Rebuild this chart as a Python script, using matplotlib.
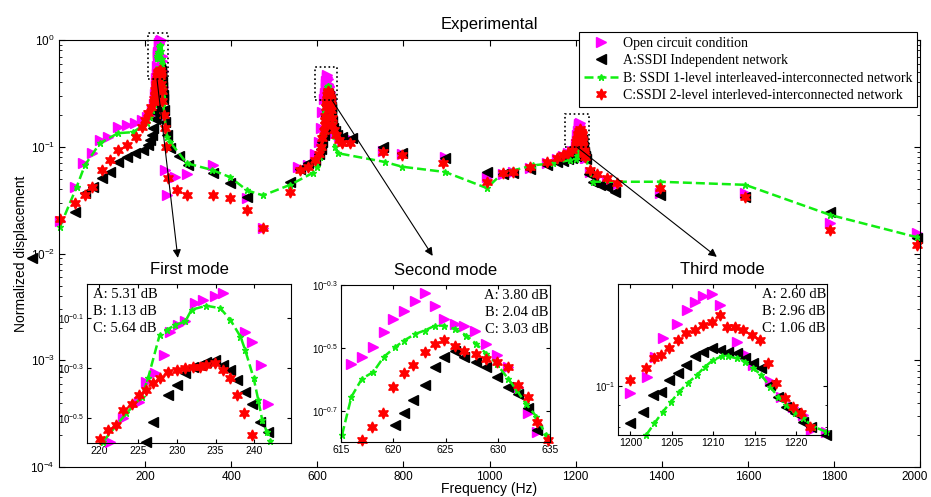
import numpy as np
import matplotlib
matplotlib.use("Agg")
import matplotlib.pyplot as plt
import matplotlib.transforms as mtransforms
from matplotlib.patches import Rectangle
from matplotlib.ticker import FixedLocator, FixedFormatter, NullLocator, NullFormatter

plt.rcParams['font.family'] = ['Liberation Sans', 'DejaVu Sans']
plt.rcParams['mathtext.fontset'] = 'custom'
plt.rcParams['mathtext.rm'] = 'Liberation Sans'
plt.rcParams['mathtext.it'] = 'Liberation Sans:italic'

# ===== DATA =====
# broadband sweep, frequency (Hz) / normalized displacement
open_f = [2, 37, 56, 77, 95, 114, 137, 158, 177, 193, 204, 211, 216, 244, 247, 251, 270, 297, 358, 437,
          474, 555, 579, 595, 603, 608, 612, 637, 642, 650, 657, 680, 753, 797, 897, 994, 1031, 1055, 1094, 1133,
          1157, 1170, 1182, 1192, 1233, 1250, 1273, 1292, 1396, 1594, 1791, 1993]
open_v = [0.020, 0.042, 0.070, 0.087, 0.116, 0.123, 0.153, 0.160, 0.167, 0.178, 0.19, 0.20, 0.22, 0.20, 0.060, 0.035, 0.052, 0.056, 0.068, 0.033,
          0.0173, 0.065, 0.068, 0.085, 0.11, 0.15, 0.21, 0.15, 0.135, 0.125, 0.118, 0.115, 0.092, 0.085, 0.080, 0.052, 0.056, 0.058, 0.063, 0.070,
          0.076, 0.082, 0.088, 0.092, 0.058, 0.053, 0.048, 0.044, 0.037, 0.037, 0.0194, 0.0156]

a_f = [-63, 37, 60, 79, 100, 118, 137, 158, 177, 195, 207, 212, 216, 219, 222, 224, 243.5, 246, 250, 258,
       279, 300, 358, 397, 437, 537, 560, 579, 595, 603, 608, 612, 616, 618, 636, 640, 645, 657, 680, 753,
       797, 897, 994, 1031, 1055, 1094, 1133, 1157, 1170, 1182, 1192, 1230, 1240, 1257, 1273, 1292, 1396, 1594, 1791, 1993]
a_v = [0.0091, 0.0245, 0.037, 0.042, 0.051, 0.058, 0.072, 0.080, 0.087, 0.093, 0.104, 0.115, 0.13, 0.15, 0.18, 0.21, 0.22, 0.17, 0.13, 0.097,
       0.082, 0.067, 0.057, 0.046, 0.034, 0.047, 0.062, 0.070, 0.075, 0.085, 0.095, 0.11, 0.13, 0.15, 0.15, 0.14, 0.13, 0.123, 0.12, 0.10,
       0.087, 0.078, 0.058, 0.055, 0.057, 0.062, 0.068, 0.072, 0.074, 0.076, 0.078, 0.055, 0.047, 0.044, 0.042, 0.0375, 0.035, 0.034, 0.0245, 0.014]

b_f = [2, 41, 60, 95, 137, 172, 204, 212, 217, 245, 248, 251, 258, 297, 355, 397, 437, 474, 537, 590,
       600, 606, 610, 613, 640, 648, 757, 797, 897, 994, 1031, 1055, 1101, 1148, 1187, 1240, 1396, 1594, 1791, 1993]
b_v = [0.0177, 0.042, 0.067, 0.108, 0.134, 0.137, 0.167, 0.19, 0.22, 0.20, 0.15, 0.123, 0.111, 0.070, 0.0607, 0.052, 0.039, 0.035, 0.044, 0.057,
       0.065, 0.08, 0.10, 0.13, 0.10, 0.087, 0.072, 0.065, 0.058, 0.041, 0.057, 0.060, 0.067, 0.070, 0.075, 0.047, 0.047, 0.044, 0.023, 0.0142]

c_f = [2, 37, 60, 77, 100, 118, 137, 158, 179, 193, 200, 207, 213, 243, 246, 249, 253, 274, 297, 358,
       397, 437, 474, 537, 560, 579, 595, 603, 608, 612, 615, 638, 643, 650, 657, 676, 753, 797, 892, 994,
       1031, 1055, 1094, 1133, 1157, 1170, 1182, 1192, 1233, 1250, 1273, 1296, 1396, 1594, 1791, 1993]
c_v = [0.021, 0.030, 0.035, 0.042, 0.0605, 0.075, 0.093, 0.104, 0.123, 0.153, 0.178, 0.206, 0.235, 0.20, 0.15, 0.10, 0.051, 0.039, 0.035, 0.035,
       0.033, 0.0256, 0.0173, 0.038, 0.060, 0.065, 0.075, 0.085, 0.10, 0.12, 0.14, 0.145, 0.13, 0.115, 0.108, 0.108, 0.089, 0.083, 0.070, 0.047,
       0.057, 0.058, 0.064, 0.072, 0.078, 0.083, 0.088, 0.093, 0.060, 0.055, 0.051, 0.046, 0.041, 0.034, 0.0165, 0.012]

# fine sweeps around the three modes
open_m1_f = [221.4, 223.1, 225.2, 226.1, 227.2, 228.3, 229.1, 230.2, 231.1, 232.3, 233.4, 234.9, 236.0, 238.8, 239.7, 240.9, 241.8]
open_m1_v = [0.254, 0.315, 0.367, 0.442, 0.478, 0.565, 0.702, 0.746, 0.771, 0.912, 0.942, 0.971, 1.000, 0.702, 0.640, 0.515, 0.361]
a_m1_f = [226.1, 227.0, 228.9, 230.0, 231.1, 232.1, 233.0, 233.8, 234.9, 236.0, 236.9, 237.7, 238.8, 239.7, 240.7, 241.8]
a_m1_v = [0.254, 0.305, 0.390, 0.429, 0.478, 0.507, 0.515, 0.532, 0.540, 0.515, 0.492, 0.449, 0.403, 0.361, 0.305, 0.278]
b_m1_f = [220.5, 223.5, 225.5, 226.3, 227.8, 228.7, 229.8, 231.1, 231.9, 233.8, 235.6, 236.9, 238.2, 238.8, 239.9, 240.5, 241.0, 241.6, 242.0]
b_m1_v = [0.254, 0.330, 0.385, 0.456, 0.681, 0.713, 0.746, 0.771, 0.859, 0.891, 0.871, 0.782, 0.670, 0.593, 0.456, 0.372, 0.310, 0.278, 0.257]
c_m1_f = [220.1, 221.2, 222.2, 223.1, 224.2, 225.2, 226.1, 227.0, 227.8, 228.9, 230.0, 231.1, 232.1, 233.0, 233.8, 234.9, 236.0, 236.9, 237.7, 238.6, 239.7]
c_m1_v = [0.261, 0.282, 0.296, 0.340, 0.361, 0.390, 0.409, 0.435, 0.456, 0.484, 0.492, 0.500, 0.505, 0.507, 0.515, 0.524, 0.492, 0.456, 0.390, 0.330, 0.270]

open_m2_f = [616.0, 617.0, 618.1, 619.1, 620.0, 621.0, 622.1, 623.0, 624.0, 624.9, 625.9, 626.8, 627.8, 628.9, 629.9, 631.0, 631.9, 632.9, 633.8]
open_m2_v = [0.281, 0.296, 0.318, 0.354, 0.391, 0.415, 0.447, 0.474, 0.431, 0.391, 0.377, 0.372, 0.359, 0.326, 0.299, 0.275, 0.238, 0.196, 0.171]
a_m2_f = [620.2, 621.0, 621.9, 623.0, 624.0, 624.9, 625.9, 626.8, 627.9, 628.9, 629.9, 631.0, 631.9, 632.9, 633.8]
a_m2_v = [0.180, 0.196, 0.216, 0.240, 0.275, 0.296, 0.310, 0.296, 0.285, 0.275, 0.255, 0.238, 0.226, 0.203, 0.173]
b_m2_f = [615.1, 616.0, 617.0, 618.1, 619.1, 620.2, 621.0, 622.1, 623.0, 624.0, 624.9, 625.9, 627.0, 627.9, 628.9, 629.9, 631.0, 631.8, 632.7, 633.7, 634.6]
b_m2_v = [0.167, 0.221, 0.252, 0.265, 0.296, 0.318, 0.333, 0.350, 0.359, 0.372, 0.372, 0.363, 0.346, 0.326, 0.303, 0.281, 0.252, 0.232, 0.210, 0.191, 0.167]
c_m2_f = [617.0, 618.0, 619.0, 620.0, 621.0, 621.9, 623.0, 624.0, 624.9, 625.9, 626.8, 627.9, 628.9, 629.9, 631.0, 631.9, 632.9, 633.8, 634.8]
c_m2_v = [0.161, 0.177, 0.196, 0.238, 0.262, 0.278, 0.306, 0.326, 0.335, 0.321, 0.310, 0.303, 0.292, 0.285, 0.275, 0.241, 0.221, 0.184, 0.161]

open_m3_f = [1200.0, 1202.0, 1203.0, 1203.9, 1205.6, 1206.8, 1207.8, 1208.8, 1209.8, 1210.8, 1212.8, 1213.8, 1214.8, 1216.8, 1218.2, 1219.6, 1220.8, 1221.8, 1223.6]
open_m3_v = [0.0962, 0.1050, 0.1167, 0.1294, 0.1400, 0.1510, 0.1580, 0.1626, 0.1652, 0.1552, 0.1271, 0.1189, 0.1119, 0.1023, 0.0942, 0.0891, 0.0853, 0.0785, 0.0778]
a_m3_f = [1200.0, 1201.5, 1202.7, 1203.7, 1204.7, 1205.7, 1206.7, 1207.8, 1208.8, 1209.8, 1210.8, 1211.8, 1212.8, 1213.8, 1214.8, 1215.8, 1216.8, 1217.8, 1218.8, 1219.8, 1220.8, 1221.8, 1223.6]
a_m3_v = [0.0815, 0.0867, 0.0951, 0.0968, 0.1030, 0.1069, 0.1119, 0.1172, 0.1202, 0.1225, 0.1213, 0.1202, 0.1194, 0.1161, 0.1130, 0.1099, 0.1005, 0.0942, 0.0891, 0.0861, 0.0822, 0.0800, 0.0764]
b_m3_f = [1201.9, 1202.9, 1203.9, 1204.9, 1205.9, 1206.9, 1208.0, 1209.0, 1210.0, 1211.0, 1211.8, 1212.8, 1213.8, 1214.8, 1215.8, 1216.8, 1217.8, 1218.8, 1219.8, 1220.8, 1222.0, 1223.6]
b_m3_v = [0.0764, 0.0815, 0.0867, 0.0916, 0.0968, 0.1014, 0.1059, 0.1109, 0.1151, 0.1172, 0.1172, 0.1161, 0.1140, 0.1099, 0.1059, 0.0995, 0.0942, 0.0899, 0.0861, 0.0838, 0.0800, 0.0778]
c_m3_f = [1200.0, 1201.9, 1202.9, 1203.7, 1204.7, 1205.7, 1206.7, 1207.8, 1208.8, 1209.8, 1210.8, 1211.6, 1212.6, 1213.6, 1214.6, 1215.6, 1216.6, 1217.6, 1218.6, 1219.6, 1220.6, 1221.6]
c_m3_v = [0.1030, 0.1099, 0.1161, 0.1183, 0.1225, 0.1282, 0.1330, 0.1355, 0.1393, 0.1416, 0.1469, 0.1380, 0.1380, 0.1355, 0.1318, 0.1282, 0.1130, 0.1014, 0.0933, 0.0891, 0.0861, 0.0800]

labels = ['Open circuit condition',
          'A:SSDI Independent network',
          'B: SSDI 1-level interleaved-interconnected network',
          'C:SSDI 2-level interleved-interconnected network']
mode_titles = ['First mode', 'Second mode', 'Third mode']
mode_text = ['A: 5.31 dB\nB: 1.13 dB\nC: 5.64 dB',
             'A: 3.80 dB\nB: 2.04 dB\nC: 3.03 dB',
             'A: 2.60 dB\nB: 2.96 dB\nC: 1.06 dB']
# zoom windows on the main plot (f0, f1, v0, v1)
zoom_boxes = [(207, 253, 0.431, 1.163), (595, 646, 0.274, 0.559), (1175, 1231, 0.0995, 0.2026)]
# arrow tails / heads (main axes data coords)
arrow_tail = [(227.6, 0.431), (634, 0.274), (1203, 0.0995)]
arrow_head = [(276, 0.0091), (868, 0.0095), (1528, 0.0093)]
# =======================================

sets = {
    'open': (open_f, open_v, [(open_m1_f, open_m1_v), (open_m2_f, open_m2_v), (open_m3_f, open_m3_v)]),
    'a': (a_f, a_v, [(a_m1_f, a_m1_v), (a_m2_f, a_m2_v), (a_m3_f, a_m3_v)]),
    'b': (b_f, b_v, [(b_m1_f, b_m1_v), (b_m2_f, b_m2_v), (b_m3_f, b_m3_v)]),
    'c': (c_f, c_v, [(c_m1_f, c_m1_v), (c_m2_f, c_m2_v), (c_m3_f, c_m3_v)]),
}
styles = {
    'open': dict(ls='none', marker='>', ms=7, mfc='#ff00ff', mec='#ff00ff'),
    'a': dict(ls='none', marker='<', ms=7, mfc='black', mec='black'),
    'b': dict(ls=(0, (3.6, 1.6)), lw=1.8, color='#11ee11', marker='*', ms=5, mfc='#11ee11', mec='#11ee11'),
    'c': dict(ls='none', marker=(6, 1, 0), ms=8, mfc='red', mec='red'),
}


def full_series(key):
    f0, v0, modes = sets[key]
    f = np.concatenate([f0] + [m[0] for m in modes])
    v = np.concatenate([v0] + [m[1] for m in modes])
    o = np.argsort(f)
    return f[o], v[o]


W, H = 931, 497
fig = plt.figure(figsize=(W / 100, H / 100), dpi=100)
ax = fig.add_axes([59 / W, 1 - 467 / H, (920 - 59) / W, (467 - 40) / H])

for key, lab in zip(['open', 'a', 'b', 'c'], labels):
    f, v = full_series(key)
    ax.plot(f, v, label=lab, clip_on=False, **styles[key])

ax.set_yscale('log')
ax.set_xlim(0, 2000)
ax.set_ylim(1e-4, 1)
ax.set_xticks(np.arange(200, 2001, 200))
ax.tick_params(which='both', direction='in', top=True, right=True, labelsize=8.5, pad=3)
ax.tick_params(which='major', length=4)
ax.tick_params(which='minor', length=2)
ax.set_xlabel('Frequency (Hz)', fontsize=10, labelpad=-1)
ax.set_ylabel('Normalized displacement', fontsize=10, labelpad=2)
ax.set_title('Experimental', fontsize=12, pad=8)

for (f0, f1, v0, v1) in zoom_boxes:
    ax.add_patch(Rectangle((f0, v0), f1 - f0, v1 - v0, fill=False, ls=':', lw=1.2,
                           ec='black', clip_on=False, zorder=5))
for t, h in zip(arrow_tail, arrow_head):
    ax.annotate('', xy=h, xytext=t, annotation_clip=False,
                arrowprops=dict(arrowstyle='-|>', color='black', lw=0.8,
                                mutation_scale=12, shrinkA=0, shrinkB=0))

leg = ax.legend(loc='upper right', bbox_to_anchor=(917 / W, 1 - 32 / H), bbox_transform=fig.transFigure,
                prop={'family': 'Liberation Serif', 'size': 10}, frameon=True, fancybox=False,
                edgecolor='black', framealpha=1, borderpad=0.35, labelspacing=0.32,
                handlelength=2.5, handletextpad=0.3, borderaxespad=0)
leg.get_frame().set_linewidth(0.8)

# ---- insets ----
inset_px = [(87, 284, 291, 443), (341, 285, 550, 442), (618, 284, 827, 435)]
inset_xlim = [(218.45, 244.7), (615, 635), (1198.5, 1223.7)]
inset_ylim = [(0.2512, 1.089), (0.1585, 0.5012), (0.0764, 0.174)]
inset_xticks = [[220, 225, 230, 235, 240], [615, 620, 625, 630, 635], [1200, 1205, 1210, 1215, 1220]]
inset_yticks = [[10 ** -0.5, 10 ** -0.3, 10 ** -0.1], [10 ** -0.7, 10 ** -0.5, 10 ** -0.3], [0.1]]
inset_ylabels = [[r'$10^{-0.5}$', r'$10^{-0.3}$', r'$10^{-0.1}$'],
                 [r'$10^{-0.7}$', r'$10^{-0.5}$', r'$10^{-0.3}$'],
                 [r'$10^{-1}$']]

for i in range(3):
    x0, y0, x1, y1 = inset_px[i]
    ins = fig.add_axes([x0 / W, 1 - y1 / H, (x1 - x0) / W, (y1 - y0) / H])
    for key in ['open', 'a', 'b', 'c']:
        mf, mv = sets[key][2][i]
        ins.plot(mf, mv, clip_on=False, **styles[key])
    ins.set_yscale('log')
    ins.set_xlim(*inset_xlim[i])
    ins.set_ylim(*inset_ylim[i])
    ins.set_xticks(inset_xticks[i])
    ins.yaxis.set_major_locator(FixedLocator(inset_yticks[i]))
    ins.yaxis.set_major_formatter(FixedFormatter(inset_ylabels[i]))
    if i == 2:
        ins.yaxis.set_minor_locator(FixedLocator([0.08, 0.09]))
    else:
        ins.yaxis.set_minor_locator(NullLocator())
    ins.yaxis.set_minor_formatter(NullFormatter())
    ins.tick_params(which='both', direction='in', top=True, right=True, labelsize=7.5, pad=2)
    ins.tick_params(which='major', length=3)
    ins.tick_params(which='minor', length=1.5)
    ins.tick_params(axis='y', labelsize=7)
    ins.set_title(mode_titles[i], fontsize=12, pad=7)
    if i == 0:
        ins.text(0.03, 0.975, mode_text[i], transform=ins.transAxes, ha='left', va='top',
                 family='Liberation Serif', fontsize=10.5, linespacing=1.4)
    else:
        ins.text(0.995, 0.975, mode_text[i], transform=ins.transAxes, ha='right', va='top',
                 family='Liberation Serif', fontsize=10.5, linespacing=1.4)

# keep the last x tick label ("2000") inside the canvas
fig.canvas.draw()
last = ax.get_xticklabels()[-1]
last.set_transform(last.get_transform() + mtransforms.ScaledTranslation(-4 / 72, 0, fig.dpi_scale_trans))

fig.savefig('out.png', dpi=100)
